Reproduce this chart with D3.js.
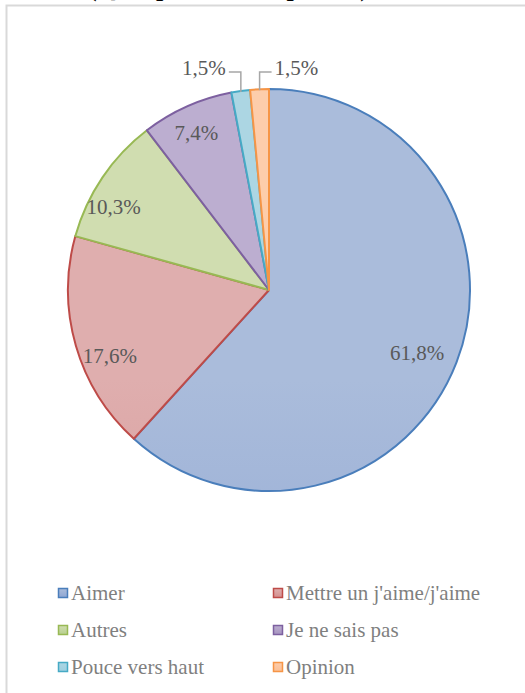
<!DOCTYPE html>
<html>
<head>
<meta charset="utf-8">
<script src="https://cdn.jsdelivr.net/npm/d3@7"></script>
<style>
  html, body { margin: 0; padding: 0; background: #fff; }
  svg { display: block; }
</style>
</head>
<body>
<svg id="chart" width="525" height="693"></svg>
<script>
// Réponses (%)
const categories = ["Aimer", "Mettre un j'aime/j'aime", "Autres", "Je ne sais pas", "Pouce vers haut", "Opinion"];
const values = [61.8, 17.6, 10.3, 7.4, 1.5, 1.5];
const valueLabels = ["61,8%", "17,6%", "10,3%", "7,4%", "1,5%", "1,5%"];
const titleText = "(Q12, plusieurs réponses)";

const strokeColors = ["#4a7ebb", "#be4b48", "#98b954", "#7d60a0", "#46aac5", "#f69546"];
const fillTop = ["#aabcdb", "#dfaeae", "#d0ddb0", "#bcaed0", "#acd6e3", "#fdcdab"];
const fillBottom = ["#8fa6d3", "#d48f8e", "#b7cf8e", "#a593bf", "#9dcfe0", "#fbbf95"];

const FONT = '"Liberation Serif", "Times New Roman", serif';
const svg = d3.select("#chart");
const W = 525, H = 693;
const cx = 269, cy = 290, R = 201;

// Title sits above the frame, mostly outside the page
svg.append("text")
  .attr("x", 88).attr("y", -4)
  .style("font-family", FONT).style("font-size", "26px").style("font-weight", "bold")
  .attr("fill", "#000")
  .text(titleText);

// Chart frame
svg.append("path")
  .attr("d", `M6.5,${H + 5} V5.5 H${W + 5}`)
  .attr("fill", "none").attr("stroke", "#d9d9d9").attr("stroke-width", 2);

const defs = svg.append("defs");
categories.forEach((c, i) => {
  const g = defs.append("linearGradient")
    .attr("id", "grad" + i)
    .attr("gradientUnits", "userSpaceOnUse")
    .attr("x1", 0).attr("y1", cy - R).attr("x2", 0).attr("y2", cy + R);
  g.append("stop").attr("offset", "0%").attr("stop-color", fillTop[i]);
  g.append("stop").attr("offset", "100%").attr("stop-color", fillBottom[i]);
  const lgd = defs.append("linearGradient")
    .attr("id", "lgrad" + i)
    .attr("x1", 0).attr("y1", 0).attr("x2", 0).attr("y2", 1);
  lgd.append("stop").attr("offset", "0%").attr("stop-color", fillTop[i]);
  lgd.append("stop").attr("offset", "100%").attr("stop-color", fillBottom[i]);
});

const data = categories.map((c, i) => ({ name: c, value: values[i], label: valueLabels[i], i }));

const pie = d3.pie().value(d => d.value).sort(null).startAngle(0).endAngle(2 * Math.PI);
const arcs = pie(data);
const arc = d3.arc().innerRadius(0).outerRadius(R);

const g = svg.append("g").attr("transform", `translate(${cx},${cy})`);
g.selectAll("path.slice")
  .data(arcs)
  .join("path")
  .attr("class", "slice")
  .attr("d", arc)
  .attr("fill", d => `url(#grad${d.data.i})`)
  .attr("stroke", d => strokeColors[d.data.i])
  .attr("stroke-width", 2)
  .attr("stroke-linejoin", "round");

const labelColor = "#595959";

// Labels inside the larger slices: radius fraction plus a small nudge
const innerLabelRadius = [0.79, 0.855, 0.88, 0.86];
const innerNudge = [[0, 6], [6, 18], [-9, 16], [-2, 1]];
arcs.slice(0, 4).forEach((a, k) => {
  const rr = R * innerLabelRadius[k];
  const [x, y] = d3.arc().innerRadius(rr).outerRadius(rr).centroid(a);
  g.append("text")
    .attr("x", x + innerNudge[k][0]).attr("y", y + innerNudge[k][1])
    .attr("text-anchor", "middle").attr("dominant-baseline", "central")
    .style("font-family", FONT).style("font-size", "21px")
    .attr("fill", labelColor)
    .text(a.data.label);
});

// Outside labels with leader lines for the two smallest slices
arcs.slice(4).forEach((a, k) => {
  const mid = (a.startAngle + a.endAngle) / 2;
  const px = Math.sin(mid) * (R - 1), py = -Math.cos(mid) * (R - 1);
  const ly = 72 - cy;               // elbow height
  const side = k === 0 ? -1 : 1;
  const endX = px + side * 12;
  g.append("path")
    .attr("d", `M${px},${py} V${ly} H${endX}`)
    .attr("fill", "none").attr("stroke", "#a6a6a6").attr("stroke-width", 1.5);
  g.append("text")
    .attr("x", endX + side * 3).attr("y", ly - 4)
    .attr("text-anchor", side < 0 ? "end" : "start")
    .attr("dominant-baseline", "central")
    .style("font-family", FONT).style("font-size", "21px")
    .attr("fill", labelColor)
    .text(a.data.label);
});

// Legend in two columns
const legendX = [58, 273], legendY0 = 593, rowH = 37;
const lg = svg.append("g");
data.forEach((d, i) => {
  const col = i % 2, row = Math.floor(i / 2);
  const x = legendX[col], y = legendY0 + row * rowH;
  lg.append("rect")
    .attr("x", x + 0.5).attr("y", y - 4.5)
    .attr("width", 9).attr("height", 9)
    .attr("fill", `url(#lgrad${i})`)
    .attr("stroke", strokeColors[i]).attr("stroke-width", 1.5);
  lg.append("text")
    .attr("x", x + 13).attr("y", y)
    .attr("dominant-baseline", "central")
    .style("font-family", FONT).style("font-size", "21px")
    .attr("fill", "#7f7f7f")
    .text(d.name);
});
</script>
</body>
</html>
